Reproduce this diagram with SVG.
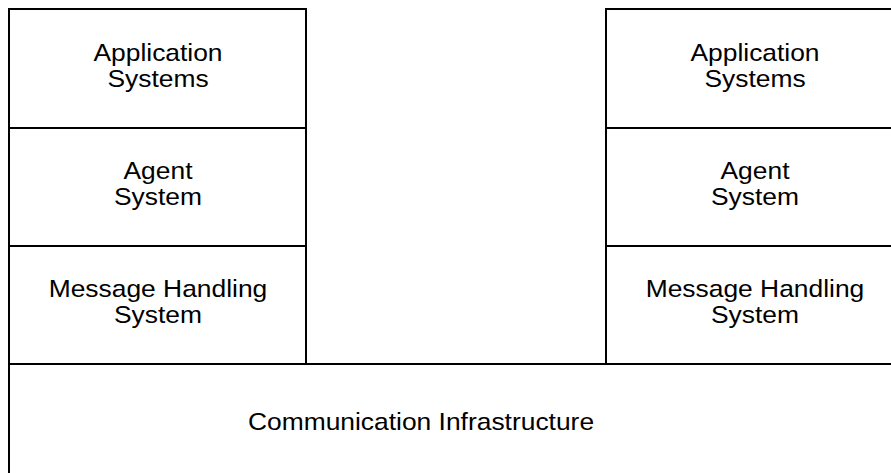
<svg xmlns="http://www.w3.org/2000/svg" width="891" height="473" viewBox="0 0 891 473">
  <style>
    .box { fill: #ffffff; stroke: #000000; stroke-width: 2; }
    .lbl { font-family: "Liberation Sans", Arial, sans-serif; font-size: 24px; fill: #000000; text-anchor: middle; }
  </style>
  <rect width="891" height="473" fill="#ffffff"/>

  <!-- Left stack -->
  <g id="left-application">
    <rect class="box" x="9" y="9" width="297" height="119"/>
    <text class="lbl" transform="translate(158,61) scale(1.1,1)"><tspan x="0" y="0">Application</tspan><tspan x="0" y="26">Systems</tspan></text>
  </g>
  <g id="left-agent">
    <rect class="box" x="9" y="128" width="297" height="118"/>
    <text class="lbl" transform="translate(158,179) scale(1.1,1)"><tspan x="0" y="0">Agent</tspan><tspan x="0" y="26">System</tspan></text>
  </g>
  <g id="left-mhs">
    <rect class="box" x="9" y="246" width="297" height="118"/>
    <text class="lbl" transform="translate(158,297) scale(1.1,1)"><tspan x="0" y="0">Message Handling</tspan><tspan x="0" y="26">System</tspan></text>
  </g>

  <!-- Right stack (runs past the right edge) -->
  <g id="right-application">
    <rect class="box" x="606" y="9" width="297" height="119"/>
    <text class="lbl" transform="translate(755,61) scale(1.1,1)"><tspan x="0" y="0">Application</tspan><tspan x="0" y="26">Systems</tspan></text>
  </g>
  <g id="right-agent">
    <rect class="box" x="606" y="128" width="297" height="118"/>
    <text class="lbl" transform="translate(755,179) scale(1.1,1)"><tspan x="0" y="0">Agent</tspan><tspan x="0" y="26">System</tspan></text>
  </g>
  <g id="right-mhs">
    <rect class="box" x="606" y="246" width="297" height="118"/>
    <text class="lbl" transform="translate(755,297) scale(1.1,1)"><tspan x="0" y="0">Message Handling</tspan><tspan x="0" y="26">System</tspan></text>
  </g>

  <!-- Shared base layer -->
  <g id="communication-infrastructure">
    <rect class="box" x="9" y="364" width="900" height="130"/>
    <text class="lbl" transform="translate(421,430) scale(1.1,1)">Communication Infrastructure</text>
  </g>

  <g id="connectors"></g>
</svg>
